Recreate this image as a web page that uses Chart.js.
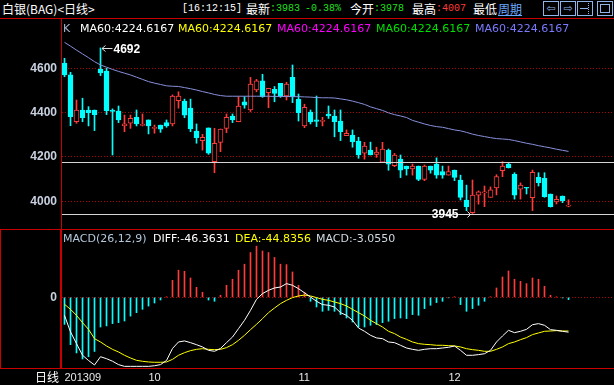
<!DOCTYPE html>
<html><head><meta charset="utf-8">
<script src="https://cdn.jsdelivr.net/npm/chart.js@4/dist/chart.umd.min.js"></script>
<style>
html,body{margin:0;padding:0;background:#000;width:614px;height:385px;overflow:hidden}
body{position:relative}
canvas{position:absolute;left:0}
.t{position:absolute;white-space:nowrap;line-height:14px;font-family:"DejaVu Sans",sans-serif;font-size:11px}
.cj{font-family:"Noto Sans CJK SC",sans-serif;font-size:12px;line-height:16px}
.mo{font-family:"Liberation Mono","DejaVu Sans Mono",monospace;font-size:10px;line-height:16px}
.r{position:absolute;background:#c80000}
.ib{position:absolute;top:1px;height:13px;border:1px solid #8fb4e8;color:#8fb4e8;font-size:11px;line-height:13px;text-align:center;font-family:"DejaVu Sans",sans-serif}
</style></head><body>
<canvas id="c1" width="614" height="209" style="top:19px"></canvas>
<canvas id="c2" width="614" height="155" style="top:230px"></canvas>

<!-- frame lines -->
<div class="r" style="left:0;top:18px;width:614px;height:1px"></div>
<div class="r" style="left:61px;top:18px;width:1px;height:351px"></div>
<div class="r" style="left:0;top:229px;width:614px;height:1px"></div>
<div class="r" style="left:0;top:368px;width:614px;height:1px"></div>
<div class="r" style="left:0;top:229px;width:1px;height:140px"></div>
<div class="r" style="left:60px;top:229px;width:1px;height:140px"></div>

<!-- header -->
<div class="t cj" style="left:2px;top:1px;color:#fff">白银(BAG)&lt;日线&gt;</div>
<div class="t mo" style="left:182px;top:1px;color:#fff">[16:12:15]</div>
<div class="t cj" style="left:246px;top:1px;color:#fff">最新</div>
<div class="t mo" style="left:270px;top:1px;color:#1ee01e">:3983</div>
<div class="t mo" style="left:305px;top:1px;color:#1ee01e">-0.38%</div>
<div class="t cj" style="left:350px;top:1px;color:#fff">今开</div>
<div class="t mo" style="left:374px;top:1px;color:#1ee01e">:3978</div>
<div class="t cj" style="left:412px;top:1px;color:#fff">最高</div>
<div class="t mo" style="left:436px;top:1px;color:#ff3c3c">:4007</div>
<div class="t cj" style="left:473px;top:1px;color:#fff">最低</div>
<div class="t cj" style="left:497px;top:1px;color:#6aa8ff;background:#000;text-decoration:underline;padding-left:1px">周期</div>
<div class="ib" style="left:543px;width:14px">⇦</div>
<div class="ib" style="left:560px;width:14px">⇨</div>
<div class="ib" style="left:577px;width:14px"><div style="position:absolute;left:2px;top:6px;width:8px;height:1px;background:#8fb4e8"></div><div style="position:absolute;left:10px;top:1px;width:1px;height:11px;border-left:1px dotted #8fb4e8"></div></div>
<div class="ib" style="left:597px;width:14px"><div style="position:absolute;left:2px;top:2px;width:8px;height:7px;border:1px solid #8fb4e8"></div></div>

<!-- price legend -->
<div class="t" style="left:63px;top:22px;color:#a8b8d0">K</div>
<div class="t" id="lg1" style="left:80px;top:22px;color:#ffffff"></div>
<div class="t" id="lg2" style="left:178px;top:22px;color:#ffff00"></div>
<div class="t" id="lg3" style="left:277px;top:22px;color:#ff00ff"></div>
<div class="t" id="lg4" style="left:376px;top:22px;color:#00e000"></div>
<div class="t" id="lg5" style="left:475px;top:22px;color:#7a7aff"></div>

<!-- macd legend -->
<div class="t" style="left:63px;top:232px;color:#b4c8dc">MACD(26,12,9)</div>
<div class="t" id="ld1" style="left:153px;top:232px;color:#ffffff"></div>
<div class="t" id="ld2" style="left:235px;top:232px;color:#ffff00"></div>
<div class="t" id="ld3" style="left:316px;top:232px;color:#d0d8e0"></div>
<div class="t cj" style="left:35px;top:369px;color:#fff">日线</div>

<script>
// ---------------- data ----------------
const open = [4623,4570,4359,4412,4412,4412,4597,4588,4410,4407,
  4341,4352,4379,4342,4367,4329,4344,4355,4349,4454,
  4452,4420,4317,4274,4331,4179,4266,4329,4385,4359,
  4449,4412,4502,4543,4490,4505,4532,4475,4559,4460,
  4340,4403,4367,4360,4394,4385,4362,4296,4299,4272,
  4217,4231,4212,4176,4231,4161,4191,4159,4146,4159,
  4099,4159,4168,4134,4118,4141,4096,4006,3949,4028,
  4038,4018,4060,4138,4168,4122,4055,4063,4016,4108,
  4104,4033,3997,4024,3978];
const high = [4645,4582,4457,4465,4427,4412,4692,4600,4417,4430,
  4389,4389,4412,4394,4367,4344,4344,4367,4480,4494,
  4461,4461,4349,4302,4331,4329,4326,4394,4394,4472,
  4472,4559,4550,4573,4510,4518,4532,4537,4615,4484,
  4438,4412,4475,4379,4430,4412,4412,4322,4322,4289,
  4266,4267,4244,4266,4236,4216,4209,4159,4168,4159,
  4164,4159,4196,4159,4159,4141,4118,4073,4096,4047,
  4069,4065,4120,4179,4176,4129,4083,4063,4141,4129,
  4129,4033,4024,4024,4007];
const low = [4562,4341,4352,4359,4340,4319,4567,4391,4209,4355,
  4314,4329,4340,4340,4304,4307,4311,4334,4340,4420,
  4377,4314,4262,4231,4212,4129,4224,4310,4355,4359,
  4420,4405,4494,4469,4422,4449,4469,4457,4445,4362,
  4332,4349,4337,4340,4374,4291,4274,4296,4244,4194,
  4190,4209,4198,4176,4140,4156,4107,4118,4118,4093,
  4093,4127,4104,4104,4118,4093,4006,3958,3945,3987,
  3976,4018,4029,4111,4150,4010,4010,4033,3958,4069,
  4018,3974,3988,3994,3975];
const close = [4570,4382,4412,4377,4400,4391,4579,4409,4405,4367,
  4349,4374,4349,4348,4340,4334,4325,4340,4475,4475,
  4389,4326,4287,4289,4217,4262,4326,4379,4367,4430,
  4434,4529,4543,4472,4510,4487,4475,4529,4472,4400,
  4424,4358,4360,4365,4385,4359,4314,4307,4269,4209,
  4249,4209,4222,4236,4167,4209,4141,4146,4159,4099,
  4159,4141,4118,4118,4134,4108,4018,3976,4028,4043,
  4043,4052,4111,4159,4152,4028,4073,4059,4131,4084,
  4021,3976,4009,4003,3983];
const ma60 = [4717,4700,4682,4665,4648,4630,4615,4605,4595,4586,
  4578,4570,4560,4550,4540,4533,4527,4521,4519,4518,
  4513,4508,4502,4495,4489,4482,4477,4474,4474,4474,
  4474,4474,4474,4474,4474,4473,4473,4473,4472,4472,
  4471,4470,4468,4467,4467,4466,4462,4458,4452,4445,
  4437,4426,4418,4410,4399,4391,4385,4378,4365,4357,
  4349,4342,4337,4334,4328,4322,4318,4311,4303,4297,
  4292,4287,4283,4281,4279,4274,4268,4262,4257,4251,
  4246,4241,4235,4230,4225];
const macdHist = [-36,-63,-74,-82,-79,-72,-39.5,-38,-35,-33.7,
  -31.5,-25,-20.4,-16,-11.6,-7.6,-3.6,0.5,22.6,36,
  34.6,25.7,13.3,6.7,-3.6,-5.3,2.7,16,24,36,
  44,59.5,68,61.6,59.5,53,44,43.5,33.7,16,
  6.7,-5.3,-12.9,-18.6,-17.3,-18.6,-23,-27.5,-32.8,-39.5,
  -39.5,-37.2,-36.3,-33.7,-31.9,-28.3,-27.5,-28.3,-23,-23.9,
  -15,-10.6,-7,-5.3,-0.7,0.7,-9.7,-18.6,-15,-10.6,
  -5.3,0.7,12.4,27,35,24,21.3,18.2,25.7,24,
  14.6,2.7,0.4,-0.9,-3.06];
const diff = [-24,-46,-61.6,-77,-84,-90,-79,-81.6,-85,-89.5,
  -91.8,-91.8,-91.8,-91.8,-91.8,-91,-89.5,-84,-68,-59.4,
  -58,-60.3,-63,-66,-70.5,-71.8,-68,-60.3,-52.8,-41.7,
  -30.6,-17.3,-2.7,4.9,9.3,12.4,13.7,18.2,16,11.5,
  6,0.4,-5.3,-9.7,-10.6,-12.9,-20.4,-24,-30.6,-40.8,
  -45.2,-50.5,-54,-55,-59.4,-60.3,-63.8,-67.4,-69.2,-70.5,
  -69.2,-68.3,-68.3,-67.4,-66.5,-64.7,-70.5,-77.1,-77.1,-76.2,
  -75,-70.5,-59.4,-51.4,-43.9,-47,-45.2,-42.6,-36.4,-35,
  -37.2,-43,-43.9,-45.2,-46.36];
const dea = [-9.3,-16,-24,-33.7,-42.6,-55,-59.4,-64.7,-69.2,-72.7,
  -77.1,-80.7,-83.8,-85.1,-86,-86.4,-86.4,-86,-82.5,-77.1,
  -73.6,-70.9,-69.2,-68.3,-69.2,-69.6,-69.2,-66.9,-63,-57.2,
  -50.5,-43,-35.9,-28.4,-20.4,-14.2,-8.4,-4,-0.4,1.8,
  3,1.8,-0.4,-2.7,-4,-6.2,-8.4,-11.5,-16,-20.4,
  -24.8,-30.6,-35,-39.5,-45.2,-48.3,-52.8,-55.9,-59.4,-61.6,
  -62.5,-63,-63.8,-63.8,-64.3,-64.7,-66,-68.3,-69.6,-70.5,
  -71.8,-71.8,-69.2,-66,-61.6,-59.4,-56.3,-53.6,-49.6,-47.4,
  -45.2,-44.8,-44.3,-44.8,-44.84];
const priceTicks = [4000,4200,4400,4600];
const macdTicks = [0];
const monthTickIdx = [0,14,39,64];
const monthLabels = ['201309','10','11','12'];
const hLines = [4176,3945];
const marks = [{i:6,label:'4692',side:'high'},{i:68,label:'3945',side:'low'}];
const legendMA = 'MA60:4224.6167';
const legendDIFF = 'DIFF:-46.3631', legendDEA = 'DEA:-44.8356', legendMACD = 'MACD:-3.0550';

['lg1','lg2','lg3','lg4','lg5'].forEach(id=>document.getElementById(id).textContent=legendMA);
document.getElementById('ld1').textContent=legendDIFF;
document.getElementById('ld2').textContent=legendDEA;
document.getElementById('ld3').textContent=legendMACD;

// ---------------- style ----------------
const RED='#ff3c3c', CYAN='#00ffff';
const X_MIN=-0.41667, X_MAX=91.58333;
const up = close.map((c,i)=>c>open[i]);
const tickFont = {family:'Liberation Sans', size:12, weight:'bold'};
const plain = v => String(v);
const fitY = s => { s.width=62; s.paddingTop=0; s.paddingBottom=0; };
const fitX = s => { s.height=17; s.paddingLeft=0; s.paddingRight=0; };

const overlay = {
  id:'overlay',
  afterDatasetsDraw(chart){
    const {ctx, chartArea:a, scales:{x,y}} = chart;
    ctx.save();
    ctx.strokeStyle='#d4d4d4'; ctx.lineWidth=1;
    hLines.forEach(v=>{
      const py=Math.round(y.getPixelForValue(v))+0.5;
      ctx.beginPath(); ctx.moveTo(a.left,py); ctx.lineTo(a.right,py); ctx.stroke();
    });
    ctx.font='bold 12px "Liberation Sans"';
    ctx.textBaseline='middle';
    marks.forEach(m=>{
      const px=x.getPixelForValue(m.i);
      const v = m.side==='high'?high[m.i]:low[m.i];
      const py=Math.round(y.getPixelForValue(v))+0.5;
      ctx.strokeStyle='#e0e0e0'; ctx.fillStyle='#ffffff';
      if(m.side==='high'){
        ctx.beginPath(); ctx.moveTo(px+1.5,py); ctx.lineTo(px+12,py);
        ctx.moveTo(px+5,py-3); ctx.lineTo(px+1.5,py); ctx.lineTo(px+5,py+3); ctx.stroke();
        ctx.textAlign='left'; ctx.fillText(m.label,px+13,py+1);
      } else {
        ctx.beginPath(); ctx.moveTo(px-13,py); ctx.lineTo(px-2,py);
        ctx.moveTo(px-5,py-3); ctx.lineTo(px-2,py); ctx.lineTo(px-5,py+3); ctx.stroke();
        ctx.textAlign='right'; ctx.fillText(m.label,px-14,py);
      }
    });
    ctx.restore();
  }
};

new Chart(document.getElementById('c1'), {
  type:'bar',
  data:{datasets:[
    {type:'line', order:0, data:ma60.map((v,i)=>({x:i,y:v})), borderColor:'#8890dc', borderWidth:1, pointRadius:0, tension:0},
    {type:'bar', order:1, grouped:false, barThickness:5, borderSkipped:false, borderWidth:1,
      data:open.map((o,i)=>({x:i,y:[o,close[i]]})),
      backgroundColor:up.map(u=>u?'#000000':CYAN), borderColor:up.map(u=>u?RED:CYAN)},
    {type:'bar', order:2, grouped:false, barThickness:1, borderWidth:0,
      data:low.map((l,i)=>({x:i,y:[l,high[i]]})),
      backgroundColor:up.map(u=>u?RED:CYAN)}
  ]},
  options:{
    responsive:false, animation:false, maintainAspectRatio:false,
    layout:{padding:0, autoPadding:false},
    plugins:{legend:{display:false}, tooltip:{enabled:false}},
    scales:{
      x:{type:'linear', min:X_MIN, max:X_MAX, offset:false, display:false, grid:{offset:false}},
      y:{min:3879.6, max:4822.4,
        afterFit:fitY,
        afterBuildTicks(s){s.ticks=priceTicks.map(v=>({value:v}));},
        ticks:{color:'#c8d0e0', font:tickFont, padding:5, callback:plain},
        grid:{color:'#b40000', drawTicks:false, lineWidth:1},
        border:{display:false, dash:[1,2]}}
    }
  },
  plugins:[overlay]
});

new Chart(document.getElementById('c2'), {
  type:'bar',
  data:{datasets:[
    {type:'line', order:0, data:diff.map((v,i)=>({x:i,y:v})), borderColor:'#ffffff', borderWidth:1, pointRadius:0},
    {type:'line', order:1, data:dea.map((v,i)=>({x:i,y:v})), borderColor:'#ffff00', borderWidth:1, pointRadius:0},
    {type:'bar', order:2, grouped:false, barThickness:1, borderWidth:0,
      data:macdHist.map((v,i)=>({x:i,y:v})),
      backgroundColor:macdHist.map(v=>v>=0?RED:CYAN)}
  ]},
  options:{
    responsive:false, animation:false, maintainAspectRatio:false,
    layout:{padding:0, autoPadding:false},
    plugins:{legend:{display:false}, tooltip:{enabled:false}},
    scales:{
      x:{type:'linear', min:X_MIN, max:X_MAX, offset:false,
        afterFit:fitX,
        afterBuildTicks(s){s.ticks=monthTickIdx.map(v=>({value:v}));},
        ticks:{color:'#e8e8e8', font:{family:'Liberation Sans', size:11}, padding:3, align:'start', maxRotation:0, autoSkip:false,
          callback:(v)=>{const k=monthTickIdx.indexOf(v); return k>=0?monthLabels[k]:'';}},
        grid:{display:false, drawTicks:false, offset:false}, border:{display:false}},
      y:{min:-94, max:89.5,
        afterFit:fitY,
        afterBuildTicks(s){s.ticks=macdTicks.map(v=>({value:v}));},
        ticks:{color:'#c8d0e0', font:tickFont, padding:5, callback:plain},
        grid:{color:'#b40000', drawTicks:false, lineWidth:1},
        border:{display:false, dash:[1,2]}}
    }
  }
});
</script>
</body></html>
